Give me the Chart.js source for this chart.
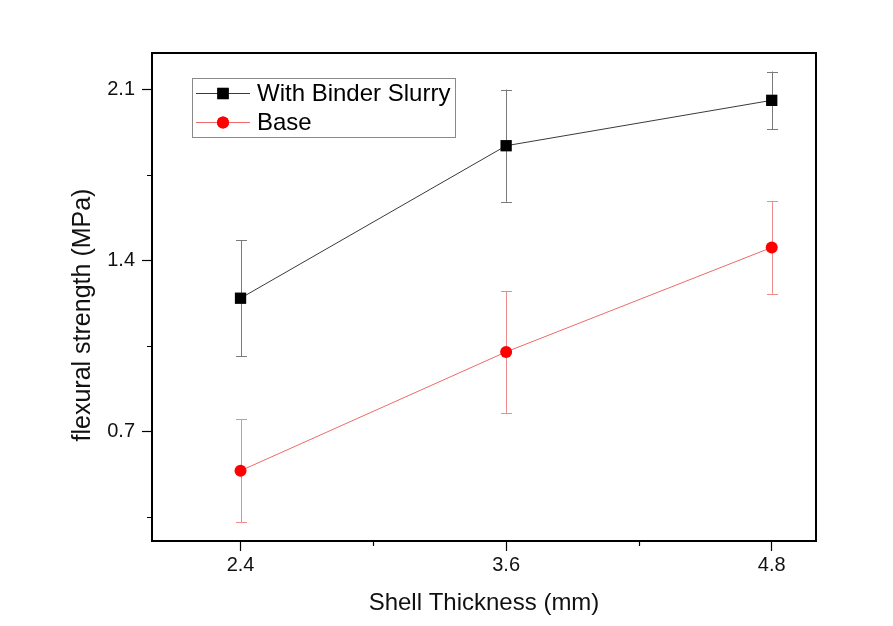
<!DOCTYPE html>
<html lang="en">
<head>
  <meta charset="UTF-8">
  <title>Flexural strength vs shell thickness</title>
  <script src="https://cdn.jsdelivr.net/npm/chart.js"></script>
  <style>
    * { margin: 0; padding: 0; box-sizing: border-box; }
    body { background: #fff; width: 893px; height: 626px; overflow: hidden; }
    canvas { display: block; }
  </style>
</head>
<body>
  <canvas id="strengthChart" width="893" height="626"></canvas>

  <script>
    // data
    const thickness = [2.4, 3.6, 4.8];
    const binderStrength = [1.245, 1.87, 2.056];
    const binderError = [0.238, 0.23, 0.118];
    const baseStrength = [0.538, 1.025, 1.453];
    const baseError = [0.212, 0.25, 0.19];

    const xMajorTicks = [2.4, 3.6, 4.8];
    const xMinorTicks = [3.0, 4.2];
    const yMajorTicks = [0.7, 1.4, 2.1];
    const yMinorTicks = [0.35, 1.05, 1.75];

    const FONT = "'Liberation Sans', Arial, Helvetica, sans-serif";

    function toPoints(ys) {
      return thickness.map((x, i) => ({ x: x, y: ys[i] }));
    }

    // vertical error bars with caps, under the markers
    const errorBars = {
      id: 'errorBars',
      beforeDatasetsDraw(chart) {
        const ctx = chart.ctx;
        const xs = chart.scales.x, ys = chart.scales.y;
        chart.data.datasets.forEach(ds => {
          ctx.save();
          ctx.strokeStyle = ds.errorColor;
          ctx.lineWidth = 1;
          ds.data.forEach((p, i) => {
            const px = Math.round(xs.getPixelForValue(p.x)) + 0.5;
            const top = ys.getPixelForValue(p.y + ds.errors[i]);
            const bot = ys.getPixelForValue(p.y - ds.errors[i]);
            ctx.beginPath();
            ctx.moveTo(px, top); ctx.lineTo(px, bot);
            ctx.moveTo(px - 5.5, Math.round(top) + 0.5); ctx.lineTo(px + 5.5, Math.round(top) + 0.5);
            ctx.moveTo(px - 5.5, Math.round(bot) + 0.5); ctx.lineTo(px + 5.5, Math.round(bot) + 0.5);
            ctx.stroke();
          });
          ctx.restore();
        });
      }
    };

    // closed frame, minor ticks, y title and boxed legend inside the plot
    const frameAndLegend = {
      id: 'frameAndLegend',
      afterDraw(chart) {
        const ctx = chart.ctx;
        const a = chart.chartArea;
        const xs = chart.scales.x, ys = chart.scales.y;
        ctx.save();
        ctx.strokeStyle = '#000';
        ctx.lineWidth = 2;
        ctx.strokeRect(a.left, a.top, a.right - a.left, a.bottom - a.top);

        ctx.lineWidth = 1.2;
        ctx.beginPath();
        xMinorTicks.forEach(v => {
          const px = Math.round(xs.getPixelForValue(v)) + 0.5;
          ctx.moveTo(px, a.bottom); ctx.lineTo(px, a.bottom + 5);
        });
        yMinorTicks.forEach(v => {
          const py = Math.round(ys.getPixelForValue(v)) + 0.5;
          ctx.moveTo(a.left, py); ctx.lineTo(a.left - 5, py);
        });
        ctx.stroke();

        // y axis title sits a bit below the middle of the axis in the original
        ctx.save();
        ctx.translate(83, 315);
        ctx.rotate(-Math.PI / 2);
        ctx.font = '25px ' + FONT;
        ctx.fillStyle = '#111';
        ctx.textAlign = 'center';
        ctx.textBaseline = 'middle';
        ctx.fillText('flexural strength (MPa)', 0, 0);
        ctx.restore();

        // legend
        const boxL = 192, boxT = 78, boxW = 263, boxH = 59;
        ctx.lineWidth = 1;
        ctx.strokeStyle = '#8a8a8a';
        ctx.strokeRect(boxL + 0.5, boxT + 0.5, boxW, boxH);
        ctx.font = '24px ' + FONT;
        ctx.textBaseline = 'middle';
        ctx.textAlign = 'left';
        chart.data.datasets.forEach((ds, i) => {
          const cy = boxT + 15 + i * 29;
          ctx.strokeStyle = ds.borderColor;
          ctx.lineWidth = 1;
          ctx.beginPath();
          ctx.moveTo(boxL + 4, cy + 0.5); ctx.lineTo(boxL + 58, cy + 0.5);
          ctx.stroke();
          ctx.fillStyle = ds.pointBackgroundColor;
          Chart.helpers.drawPoint(ctx, {
            pointStyle: ds.pointStyle, radius: ds.pointRadius, rotation: 0, borderWidth: 0
          }, boxL + 31, cy + 0.5);
          ctx.fill();
          ctx.fillStyle = '#000';
          ctx.fillText(ds.label, boxL + 65, cy + 1);
        });
        ctx.restore();
      }
    };

    const ctx = document.getElementById('strengthChart').getContext('2d');
    new Chart(ctx, {
      type: 'line',
      data: {
        datasets: [
          {
            label: 'With Binder Slurry',
            data: toPoints(binderStrength),
            errors: binderError,
            errorColor: '#7a7a7a',
            borderColor: '#3a3a3a',
            borderWidth: 1,
            pointStyle: 'rect',
            pointRadius: 8,
            pointBorderWidth: 0,
            pointBackgroundColor: '#000',
            pointBorderColor: '#000'
          },
          {
            label: 'Base',
            data: toPoints(baseStrength),
            errors: baseError,
            errorColor: '#ee8c8c',
            borderColor: '#ec6a6a',
            borderWidth: 1,
            pointStyle: 'circle',
            pointRadius: 6,
            pointBorderWidth: 0,
            pointBackgroundColor: '#ff0000',
            pointBorderColor: '#ff0000'
          }
        ]
      },
      options: {
        responsive: false,
        animation: false,
        layout: { padding: { top: 53, right: 77, bottom: 0, left: 0 } },
        plugins: {
          legend: { display: false },
          tooltip: { enabled: false }
        },
        scales: {
          x: {
            type: 'linear',
            min: 2.0,
            max: 5.0,
            afterBuildTicks: s => { s.ticks = xMajorTicks.map(v => ({ value: v })); },
            afterFit: s => { s.height = 85; },
            ticks: {
              color: '#111',
              font: { family: FONT, size: 20 },
              padding: 2,
              callback: v => v.toFixed(1)
            },
            grid: {
              drawOnChartArea: false,
              drawTicks: true,
              tickLength: 10,
              tickColor: '#000',
              tickWidth: 1.2
            },
            border: { color: '#000', width: 2 },
            title: {
              display: true,
              text: 'Shell Thickness (mm)',
              color: '#111',
              font: { family: FONT, size: 24 },
              padding: { top: 0, bottom: 8 }
            }
          },
          y: {
            min: 0.25,
            max: 2.25,
            afterBuildTicks: s => { s.ticks = yMajorTicks.map(v => ({ value: v })); },
            afterFit: s => { s.width = 152; },
            ticks: {
              color: '#111',
              font: { family: FONT, size: 20 },
              padding: 7,
              callback: v => v.toFixed(1)
            },
            grid: {
              drawOnChartArea: false,
              drawTicks: true,
              tickLength: 10,
              tickColor: '#000',
              tickWidth: 1.2
            },
            border: { color: '#000', width: 2 }
          }
        }
      },
      plugins: [errorBars, frameAndLegend]
    });
  </script>
</body>
</html>
